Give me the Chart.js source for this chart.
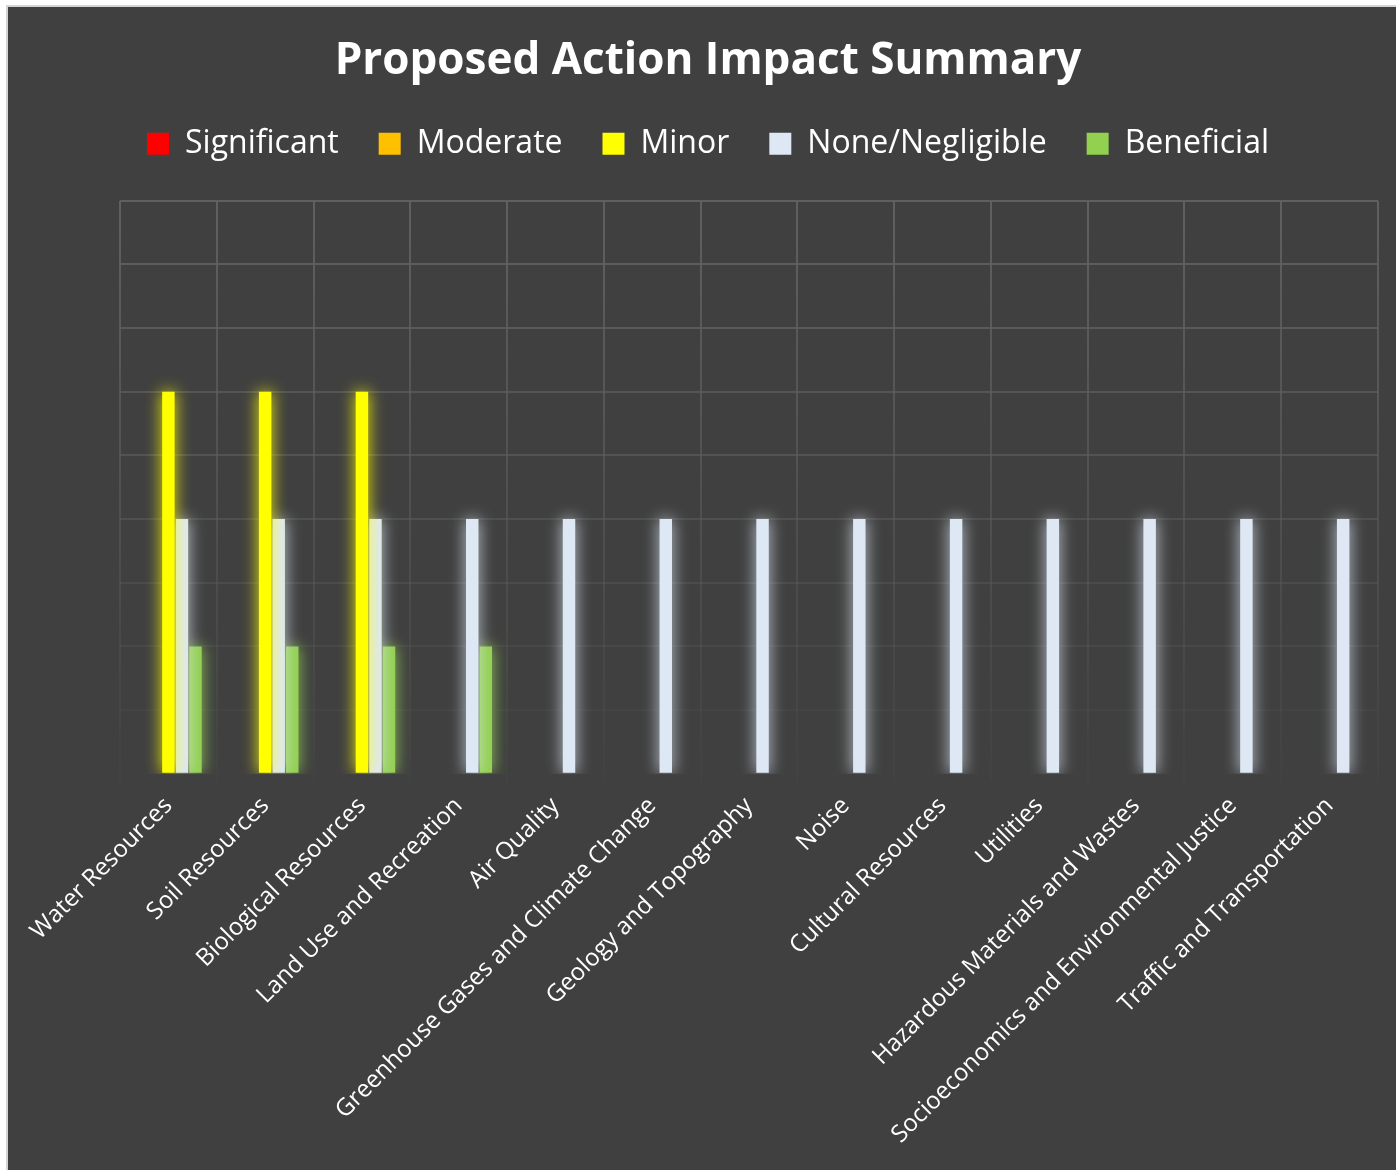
<!DOCTYPE html>
<html>
<head>
<meta charset="utf-8">
<script src="https://cdn.jsdelivr.net/npm/chart.js@4.4.1/dist/chart.umd.min.js"></script>
<style>
    html, body { margin: 0; padding: 0; background: #ffffff; overflow: hidden; }
    #frame {
        position: absolute;
        left: 6px;
        top: 5px;
        width: 1400px;
        height: 1165px;
        background: #404040;
        border-left: 2px solid #d4d4d4;
        border-top: 2px solid #d4d4d4;
    }
    #impactChart { display: block; }
</style>
</head>
<body>
<div id="frame">
    <canvas id="impactChart" width="1400" height="1165"></canvas>
</div>
<script>
// Resource categories along the x axis
const categories = [
    'Water Resources',
    'Soil Resources',
    'Biological Resources',
    'Land Use and Recreation',
    'Air Quality',
    'Greenhouse Gases and Climate Change',
    'Geology and Topography',
    'Noise',
    'Cultural Resources',
    'Utilities',
    'Hazardous Materials and Wastes',
    'Socioeconomics and Environmental Justice',
    'Traffic and Transportation'
];

// Series values (one per category)
const significant = [0, 0, 0, 0, 0, 0, 0, 0, 0, 0, 0, 0, 0];
const moderate    = [0, 0, 0, 0, 0, 0, 0, 0, 0, 0, 0, 0, 0];
const minor       = [6, 6, 6, 0, 0, 0, 0, 0, 0, 0, 0, 0, 0];
const negligible  = [4, 4, 4, 4, 4, 4, 4, 4, 4, 4, 4, 4, 4];
const beneficial  = [2, 2, 2, 2, 0, 0, 0, 0, 0, 0, 0, 0, 0];

const seriesNames = ['Significant', 'Moderate', 'Minor', 'None/Negligible', 'Beneficial'];
const seriesColors = ['#ff0000', '#ffc000', '#ffff00', '#dde8f4', '#92d050'];
const glowColors = ['rgba(255,0,0,0.95)', 'rgba(255,192,0,0.95)', 'rgba(255,255,0,0.95)',
                    'rgba(221,232,244,0.85)', 'rgba(146,208,80,0.95)'];

// Soft glow around every bar, like the original's effect
const glowPlugin = {
    id: 'glow',
    beforeDatasetDraw(chart, args) {
        const ctx = chart.ctx;
        ctx.save();
        ctx.shadowColor = glowColors[args.index];
        ctx.shadowBlur = 16;
    },
    afterDatasetDraw(chart) {
        chart.ctx.restore();
    }
};

// Extra room between the legend and the plot area
const legendGap = {
    id: 'legendGap',
    afterInit(chart) {
        const legend = chart.legend;
        const fit = legend.fit;
        legend.fit = function () {
            fit.call(this);
            this.height += 31;
        };
    }
};

const allSeries = [significant, moderate, minor, negligible, beneficial];

const ctx = document.getElementById('impactChart').getContext('2d');
new Chart(ctx, {
    type: 'bar',
    data: {
        labels: categories,
        datasets: allSeries.map((values, i) => ({
            label: seriesNames[i],
            data: values,
            backgroundColor: seriesColors[i],
            borderWidth: 0,
            categoryPercentage: 0.7,
            barPercentage: 0.92
        }))
    },
    options: {
        responsive: false,
        animation: false,
        layout: {
            padding: { left: 0, right: 0, top: 0, bottom: 13 }
        },
        plugins: {
            title: {
                display: true,
                text: 'Proposed Action Impact Summary',
                color: '#ffffff',
                font: { family: 'Open Sans', size: 44, weight: 'bold' },
                padding: { top: 28, bottom: 0 }
            },
            legend: {
                position: 'top',
                labels: {
                    color: '#ffffff',
                    font: { family: 'Open Sans', size: 32 },
                    boxWidth: 22,
                    boxHeight: 22,
                    padding: 40
                }
            },
            tooltip: { enabled: false }
        },
        scales: {
            x: {
                border: { display: false },
                grid: {
                    offset: true,
                    color: (c) => {
                        const area = c.chart.chartArea;
                        if (!area) return '#595959';
                        const g = c.chart.ctx.createLinearGradient(0, area.top, 0, area.bottom);
                        g.addColorStop(0, 'rgba(96,96,96,1)');
                        g.addColorStop(1, 'rgba(96,96,96,0.08)');
                        return g;
                    },
                    lineWidth: 2
                },
                ticks: {
                    color: '#ffffff',
                    font: { family: 'Open Sans', size: 24 },
                    minRotation: 45,
                    maxRotation: 45,
                    autoSkip: false,
                    padding: 10
                }
            },
            y: {
                min: 0,
                max: 9,
                border: { display: false },
                grid: {
                    color: (c) => `rgba(96,96,96,${(0.05 + 0.95 * c.tick.value / 9).toFixed(2)})`,
                    lineWidth: 2,
                    drawTicks: false
                },
                ticks: { display: false, stepSize: 1 },
                afterFit: (scale) => { scale.width = 112; }
            },
            yRight: {
                position: 'right',
                min: 0,
                max: 9,
                border: { display: false },
                grid: { display: false },
                ticks: { display: false },
                afterFit: (scale) => { scale.width = 30; }
            }
        }
    },
    plugins: [glowPlugin, legendGap]
});
</script>
</body>
</html>
